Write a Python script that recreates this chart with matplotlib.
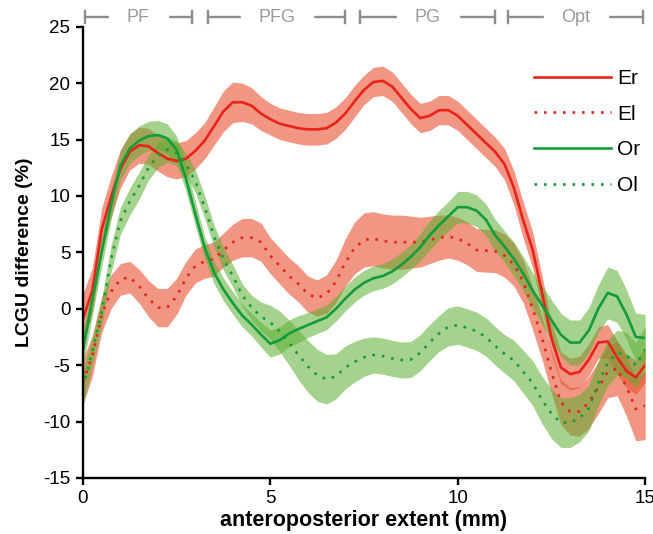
import numpy as np
import matplotlib
matplotlib.use('Agg')
import matplotlib.pyplot as plt

plt.rcParams['font.family'] = ['Liberation Sans', 'DejaVu Sans']
plt.rcParams['axes.unicode_minus'] = False

# sample positions along the anteroposterior axis (mm)
x_mm = np.linspace(0, 15, 61)

# Er - solid red
er_mean = [-0.9, 1.6, 7.0, 9.9, 12.4, 13.9, 14.5, 14.4, 13.8, 13.3, 13.1, 13.3, 14.0,
           14.9, 16.2, 17.5, 18.3, 18.3, 18.0, 17.3, 16.8, 16.4, 16.2, 16.0, 15.9,
           15.9, 16.0, 16.5, 17.3, 18.4, 19.4, 20.1, 20.2, 19.7, 18.7, 17.7, 16.9,
           17.1, 17.6, 17.6, 17.1, 16.3, 15.5, 14.7, 13.9, 12.8, 10.7, 7.8, 5.2,
           1.4, -2.6, -5.2, -5.8, -5.6, -4.5, -3.0, -2.9, -4.3, -5.5, -6.1, -5.0]
er_err = [2.2, 2.0, 1.9, 1.8, 1.7, 1.6, 1.6, 1.6, 1.6, 1.6, 1.6, 1.6, 1.6,
          1.6, 1.7, 1.8, 1.8, 1.7, 1.6, 1.5, 1.4, 1.4, 1.4, 1.4, 1.4,
          1.4, 1.4, 1.4, 1.4, 1.4, 1.3, 1.3, 1.3, 1.3, 1.3, 1.3, 1.3,
          1.3, 1.3, 1.3, 1.3, 1.3, 1.3, 1.3, 1.3, 1.4, 1.5, 1.6, 1.6,
          1.5, 1.4, 1.4, 1.4, 1.4, 1.4, 1.4, 1.5, 1.5, 1.5, 1.5, 1.5]

# El - dotted red
el_mean = [-6.5, -4.2, -0.5, 1.5, 2.6, 2.8, 2.0, 0.9, 0.1, 0.1, 1.1, 2.7, 3.8,
           4.2, 4.4, 5.2, 5.9, 6.3, 6.3, 5.9, 4.7, 3.8, 2.9, 2.2, 1.3,
           0.95, 1.3, 2.4, 4.1, 5.4, 6.1, 6.2, 6.0, 5.9, 5.9, 5.9, 5.9,
           6.1, 6.3, 6.4, 6.2, 5.8, 5.2, 5.15, 5.1, 4.7, 3.9, 2.4, 0.0,
           -2.6, -5.6, -8.3, -9.1, -9.1, -8.3, -7.0, -5.6, -5.3, -6.9, -8.9, -8.6]
el_err = [2.0, 1.8, 1.6, 1.5, 1.4, 1.4, 1.5, 1.6, 1.7, 1.7, 1.6, 1.5, 1.5,
          1.5, 1.5, 1.5, 1.6, 1.7, 1.7, 1.7, 1.6, 1.6, 1.6, 1.6, 1.6,
          1.6, 1.7, 1.9, 2.1, 2.3, 2.4, 2.4, 2.4, 2.4, 2.4, 2.3, 2.2,
          2.1, 2.0, 1.9, 1.9, 1.9, 1.9, 1.9, 1.9, 1.9, 1.9, 1.9, 1.9,
          1.9, 1.9, 2.0, 2.1, 2.2, 2.3, 2.3, 2.3, 2.4, 2.6, 2.8, 3.0]

# Or - solid green
or_mean = [-3.7, 0.8, 5.0, 9.2, 12.7, 14.2, 14.9, 15.3, 15.4, 15.1, 14.1, 11.5, 8.4,
           5.4, 3.2, 1.7, 0.5, -0.6, -1.4, -2.3, -3.1, -2.8, -2.2, -1.8, -1.45,
           -1.1, -0.77, 0.0, 0.9, 1.7, 2.3, 2.7, 2.9, 3.3, 3.9, 4.6, 5.45,
           6.5, 7.4, 8.2, 9.0, 9.0, 8.7, 7.9, 6.5, 5.5, 4.4, 3.1, 1.6,
           0.3, -1.0, -2.3, -3.0, -3.0, -1.9, 0.0, 1.4, 1.1, -0.5, -2.5, -2.6]
or_err = [1.5, 1.4, 1.3, 1.3, 1.3, 1.3, 1.3, 1.3, 1.3, 1.3, 1.2, 1.1, 1.1,
          1.0, 1.0, 1.0, 1.0, 1.0, 1.0, 1.1, 1.2, 1.2, 1.2, 1.2, 1.1,
          1.1, 1.1, 1.1, 1.1, 1.1, 1.1, 1.1, 1.1, 1.1, 1.1, 1.1, 1.2,
          1.3, 1.3, 1.3, 1.4, 1.4, 1.4, 1.4, 1.4, 1.4, 1.5, 1.5, 1.6,
          1.7, 1.8, 1.9, 2.0, 2.0, 2.0, 2.1, 2.3, 2.3, 2.2, 2.1, 2.1]

# Ol - dotted green
ol_mean = [-7.0, -3.8, -0.3, 4.4, 7.8, 9.5, 10.9, 12.5, 13.6, 14.1, 13.8, 12.8, 11.3,
           9.0, 6.4, 4.4, 2.9, 1.2, 0.1, -0.7, -1.2, -2.0, -3.0, -4.1, -5.1,
           -5.9, -6.25, -6.0, -5.2, -4.7, -4.3, -4.1, -4.2, -4.4, -4.55, -4.5, -3.9,
           -3.0, -2.2, -1.6, -1.45, -1.7, -2.0, -2.5, -3.3, -4.0, -4.6, -5.6, -6.6,
           -8.1, -9.3, -10.1, -10.1, -9.7, -8.8, -6.6, -4.8, -3.9, -4.1, -5.0, -3.6]
ol_err = [1.5, 1.3, 1.2, 1.2, 1.2, 1.2, 1.2, 1.1, 1.1, 1.1, 1.1, 1.0, 1.0,
          1.0, 1.0, 1.0, 1.0, 1.0, 1.1, 1.3, 1.5, 1.8, 2.0, 2.2, 2.3,
          2.3, 2.2, 2.0, 1.9, 1.8, 1.7, 1.6, 1.6, 1.6, 1.6, 1.6, 1.6,
          1.6, 1.6, 1.7, 1.7, 1.7, 1.7, 1.7, 1.7, 1.7, 1.8, 1.9, 2.0,
          2.1, 2.2, 2.2, 2.2, 2.1, 2.0, 2.0, 2.0, 2.0, 2.0, 2.0, 2.0]

# anatomical subdivisions shown above the plot
regions = ['PF', 'PFG', 'PG', 'Opt']
region_start = [0.05, 3.35, 7.4, 11.35]
region_end = [2.9, 7.0, 11.0, 14.95]

RED_LINE = '#e8231c'
RED_BAND = '#e8502f'
GREEN_LINE = '#129c3c'
GREEN_BAND = '#5cb030'
DOT = (0, (1, 2.6))

fig = plt.figure(figsize=(6.53, 5.34), dpi=100)
ax = fig.add_axes([0.127, 0.105, 0.861, 0.845])

# red series first, green band on top (as in the original)
for mean, err in [(er_mean, er_err), (el_mean, el_err)]:
    m = np.array(mean)
    e = np.array(err)
    ax.fill_between(x_mm, m - e, m + e, color=RED_BAND, alpha=0.6, lw=0)
for mean, ls, lab in [(er_mean, '-', 'Er'), (el_mean, DOT, 'El')]:
    ax.plot(x_mm, mean, color=RED_LINE, ls=ls, lw=1.9, label=lab)

for mean, err in [(or_mean, or_err), (ol_mean, ol_err)]:
    m = np.array(mean)
    e = np.array(err)
    ax.fill_between(x_mm, m - e, m + e, color=GREEN_BAND, alpha=0.55, lw=0)
for mean, ls, lab in [(or_mean, '-', 'Or'), (ol_mean, DOT, 'Ol')]:
    ax.plot(x_mm, mean, color=GREEN_LINE, ls=ls, lw=1.9, label=lab)

ax.set_xlim(0, 15)
ax.set_ylim(-15, 25)
ax.set_xticks([0, 5, 10, 15])
ax.set_yticks(np.arange(-15, 26, 5))
for s in ['top', 'right']:
    ax.spines[s].set_visible(False)
for s in ['left', 'bottom']:
    ax.spines[s].set_linewidth(1.7)
ax.tick_params(direction='out', length=5, width=1.7, labelsize=13.5, pad=4)
ax.set_xlabel('anteroposterior extent (mm)', fontsize=15.5, fontweight='bold', labelpad=2)
ax.set_ylabel('LCGU difference (%)', fontsize=14, fontweight='bold', labelpad=7)

# brackets with region names
y_br = 25.85
for name, a, b in zip(regions, region_start, region_end):
    ax.plot([a, b], [y_br, y_br], color='#8c8c8c', lw=1.7, clip_on=False, zorder=3)
    ax.plot([a, a], [y_br - 0.55, y_br + 0.55], color='#8c8c8c', lw=1.7, clip_on=False, zorder=3)
    ax.plot([b, b], [y_br - 0.55, y_br + 0.55], color='#8c8c8c', lw=1.7, clip_on=False, zorder=3)
    ax.text((a + b) / 2, y_br, name, ha='center', va='center', fontsize=13, color='#9a9a9a',
            zorder=4, clip_on=False,
            bbox=dict(boxstyle='square,pad=0.1', fc='white', ec='white', lw=24))

leg = ax.legend(loc='upper right', bbox_to_anchor=(1.025, 0.948), frameon=False, fontsize=15,
                handlelength=3.7, handletextpad=0.3, labelspacing=0.8)

fig.savefig('out.png', dpi=100)
